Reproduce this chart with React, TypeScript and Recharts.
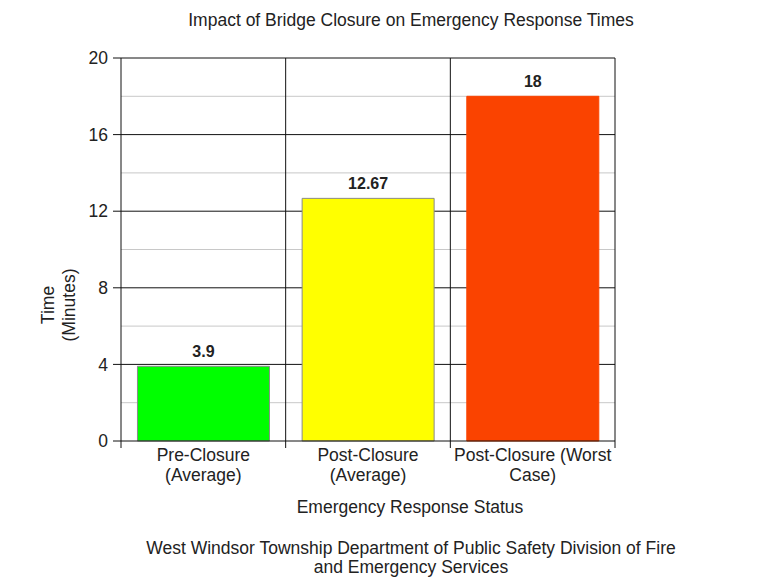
import { Bar, BarChart, CartesianGrid, Cell, LabelList, ReferenceLine, XAxis, YAxis } from 'recharts'

const categories = ['Pre-Closure (Average)', 'Post-Closure (Average)', 'Post-Closure (Worst Case)']
const categoryLines = [
  ['Pre-Closure', '(Average)'],
  ['Post-Closure', '(Average)'],
  ['Post-Closure (Worst', 'Case)'],
]
const responseTimes = [3.9, 12.67, 18]
const barColors = ['#00ff00', '#ffff00', '#fa4300']
const barStrokes = ['#8a8a8a', '#8a8a8a', '#fa4300']
const yTicks = [0, 4, 8, 12, 16, 20]
const minorGrid = [2, 6, 10, 14, 18]
const majorGrid = [4, 8, 12, 16, 20]
const boundaryTicks = [0, 1, 2, 3]
const boundaryLines = [1, 2, 3]

const data = categories.map((name, i) => ({ name, value: responseTimes[i], idx: i }))

const FONT = '"Liberation Sans", Arial, sans-serif'
const FS = 17.5

function CategoryTick({ x, y, index }: any) {
  const lines = categoryLines[index] ?? []
  return (
    <text x={x} y={y} textAnchor="middle" fill="#222" fontSize={FS} fontFamily={FONT}>
      {lines.map((l, i) => (
        <tspan key={i} x={x} y={y + 4 + i * 20}>
          {l}
        </tspan>
      ))}
    </text>
  )
}

// boundary ticks only need their tick lines, no labels
function EmptyTick() {
  return <g />
}

export default function App() {
  return (
    <div style={{ position: 'absolute', left: 0, top: 0, fontFamily: FONT }}>
      <BarChart
        width={773}
        height={583}
        data={data}
        margin={{ top: 58, right: 158, bottom: 0, left: 0 }}
        barCategoryGap="10%"
      >
        <CartesianGrid horizontalValues={minorGrid} vertical={false} stroke="#c8c8c8" />
        <CartesianGrid horizontalValues={majorGrid} vertical={false} stroke="#111" />
        <XAxis
          type="number"
          dataKey="idx"
          domain={[0, 3]}
          allowDataOverflow
          ticks={boundaryTicks}
          interval={0}
          tick={<EmptyTick />}
          tickSize={7}
          tickMargin={0}
          height={8}
          axisLine={{ stroke: '#111' }}
          tickLine={{ stroke: '#111' }}
        />
        <XAxis
          xAxisId="cat"
          dataKey="name"
          type="category"
          height={134}
          axisLine={false}
          tickLine={false}
          interval={0}
          tick={<CategoryTick />}
        />
        <YAxis
          domain={[0, 20]}
          ticks={yTicks}
          width={121}
          tickSize={8}
          tickMargin={5}
          axisLine={{ stroke: '#111' }}
          tickLine={{ stroke: '#111' }}
          tick={{ fill: '#222', fontSize: FS, fontFamily: FONT }}
        />
        {boundaryLines.map((v) => (
          <ReferenceLine key={v} x={v} stroke="#111" ifOverflow="visible" />
        ))}
        <Bar dataKey="value" xAxisId="cat" isAnimationActive={false}>
          {data.map((d) => (
            <Cell key={d.name} fill={barColors[d.idx]} stroke={barStrokes[d.idx]} strokeWidth={1} />
          ))}
          <LabelList
            dataKey="value"
            position="top"
            offset={9}
            fill="#222"
            fontSize={16}
            fontWeight="bold"
            fontFamily={FONT}
          />
        </Bar>
        <text x={411} y={26} textAnchor="middle" fontSize={FS} fill="#222" fontFamily={FONT}>
          Impact of Bridge Closure on Emergency Response Times
        </text>
        <text transform="translate(54 305) rotate(-90)" textAnchor="middle" fontSize={FS} fill="#222" fontFamily={FONT}>
          Time
        </text>
        <text transform="translate(75 305) rotate(-90)" textAnchor="middle" fontSize={FS} fill="#222" fontFamily={FONT}>
          (Minutes)
        </text>
        <text x={410} y={513} textAnchor="middle" fontSize={FS} fill="#222" fontFamily={FONT}>
          Emergency Response Status
        </text>
        <text x={411} y={554} textAnchor="middle" fontSize={FS} fill="#222" fontFamily={FONT}>
          West Windsor Township Department of Public Safety Division of Fire
        </text>
        <text x={411} y={573} textAnchor="middle" fontSize={FS} fill="#222" fontFamily={FONT}>
          and Emergency Services
        </text>
      </BarChart>
    </div>
  )
}
